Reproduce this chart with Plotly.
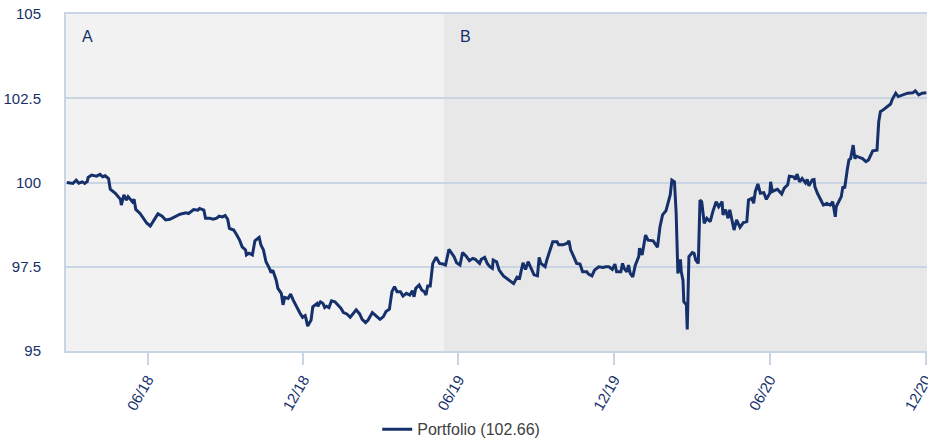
import plotly.graph_objects as go

dates = [
"2018-02-26","2018-03-05","2018-03-09","2018-03-12","2018-03-16","2018-03-19","2018-03-22","2018-03-23","2018-03-27","2018-04-02",
"2018-04-06","2018-04-09","2018-04-12","2018-04-16","2018-04-18","2018-04-24","2018-04-30","2018-05-01","2018-05-04","2018-05-07",
"2018-05-09","2018-05-14","2018-05-16","2018-05-18","2018-05-23","2018-05-28","2018-05-31","2018-06-04","2018-06-07","2018-06-13",
"2018-06-18","2018-06-22","2018-06-27","2018-07-03","2018-07-09","2018-07-16","2018-07-19","2018-07-25","2018-07-30","2018-08-01",
"2018-08-06","2018-08-08","2018-08-13","2018-08-17","2018-08-21","2018-08-24","2018-08-28","2018-08-31","2018-09-03","2018-09-05",
"2018-09-10","2018-09-13","2018-09-17","2018-09-20","2018-09-24","2018-09-25","2018-09-28","2018-10-02","2018-10-05","2018-10-10",
"2018-10-12","2018-10-15","2018-10-18","2018-10-22","2018-10-24","2018-10-26","2018-10-30","2018-11-01","2018-11-05","2018-11-07",
"2018-11-09","2018-11-13","2018-11-16","2018-11-19","2018-11-23","2018-11-27","2018-11-30","2018-12-03","2018-12-04","2018-12-06",
"2018-12-10","2018-12-12","2018-12-17","2018-12-18","2018-12-21","2018-12-24","2018-12-26","2018-12-28","2018-12-31","2019-01-03",
"2019-01-07","2019-01-09","2019-01-14","2019-01-17","2019-01-21","2019-01-25","2019-01-28","2019-02-01","2019-02-05","2019-02-08",
"2019-02-12","2019-02-15","2019-02-20","2019-02-25","2019-03-01","2019-03-05","2019-03-08","2019-03-12","2019-03-15","2019-03-18",
"2019-03-21","2019-03-25","2019-03-28","2019-04-01","2019-04-05","2019-04-08","2019-04-10","2019-04-12","2019-04-16","2019-04-19",
"2019-04-22","2019-04-24","2019-04-26","2019-04-29","2019-05-02","2019-05-06","2019-05-10","2019-05-14","2019-05-17","2019-05-21",
"2019-05-27","2019-05-30","2019-06-03","2019-06-06","2019-06-10","2019-06-14","2019-06-18","2019-06-21","2019-06-26","2019-06-28",
"2019-07-02","2019-07-05","2019-07-08","2019-07-11","2019-07-12","2019-07-16","2019-07-19","2019-07-24","2019-07-29","2019-08-01",
"2019-08-05","2019-08-09","2019-08-12","2019-08-16","2019-08-19","2019-08-22","2019-08-26","2019-08-29","2019-09-02","2019-09-04",
"2019-09-06","2019-09-11","2019-09-13","2019-09-16","2019-09-20","2019-09-25","2019-09-27","2019-10-02","2019-10-07","2019-10-09",
"2019-10-11","2019-10-15","2019-10-18","2019-10-22","2019-10-25","2019-10-30","2019-11-01","2019-11-05","2019-11-08","2019-11-13",
"2019-11-18","2019-11-21","2019-11-25","2019-11-29","2019-12-02","2019-12-04","2019-12-09","2019-12-11","2019-12-13","2019-12-16",
"2019-12-18","2019-12-20","2019-12-23","2019-12-26","2019-12-30","2019-12-31","2020-01-03","2020-01-07","2020-01-10","2020-01-16",
"2020-01-21","2020-01-24","2020-01-27","2020-01-31","2020-02-03","2020-02-05","2020-02-07","2020-02-10","2020-02-12","2020-02-14",
"2020-02-17","2020-02-18","2020-02-20","2020-02-21","2020-02-24","2020-02-25","2020-02-27","2020-03-02","2020-03-04","2020-03-06",
"2020-03-09","2020-03-11","2020-03-13","2020-03-16","2020-03-19","2020-03-23","2020-03-26","2020-03-30","2020-04-02","2020-04-06",
"2020-04-07","2020-04-10","2020-04-13","2020-04-15","2020-04-20","2020-04-23","2020-04-27","2020-05-01","2020-05-05","2020-05-07",
"2020-05-11","2020-05-13","2020-05-15","2020-05-18","2020-05-21","2020-05-25","2020-05-28","2020-06-01","2020-06-02","2020-06-04",
"2020-06-08","2020-06-10","2020-06-15","2020-06-18","2020-06-22","2020-06-24","2020-06-29","2020-07-01","2020-07-03","2020-07-06",
"2020-07-09","2020-07-13","2020-07-15","2020-07-17","2020-07-21","2020-07-23","2020-07-24","2020-07-27","2020-07-31","2020-08-03",
"2020-08-07","2020-08-11","2020-08-14","2020-08-17","2020-08-18","2020-08-21","2020-08-24","2020-08-26","2020-08-28","2020-08-31",
"2020-09-02","2020-09-04","2020-09-07","2020-09-09","2020-09-11","2020-09-15","2020-09-18","2020-09-22","2020-09-25","2020-09-30",
"2020-10-05","2020-10-07","2020-10-09","2020-10-13","2020-10-16","2020-10-21","2020-10-23","2020-10-27","2020-10-30","2020-11-04",
"2020-11-10","2020-11-16","2020-11-19","2020-11-23","2020-11-27","2020-12-02",
]

portfolio = [
100.0,99.97,100.07,99.98,100.02,99.97,100.03,100.15,100.22,100.19,
100.24,100.17,100.2,100.12,99.8,99.68,99.5,99.33,99.63,99.48,
99.58,99.43,99.5,99.2,99.08,98.91,98.79,98.71,98.84,99.07,
99.0,98.89,98.91,98.99,99.06,99.1,99.08,99.2,99.18,99.23,
99.18,98.94,98.94,98.91,98.94,99.0,98.98,99.02,98.91,98.64,
98.59,98.47,98.29,98.09,98.0,97.85,97.9,97.85,98.27,98.37,
98.15,98.0,97.65,97.45,97.32,97.4,97.1,96.86,96.71,96.37,
96.59,96.56,96.69,96.51,96.29,96.12,96.0,96.05,95.96,95.74,
95.92,96.31,96.41,96.33,96.46,96.41,96.29,96.33,96.29,96.49,
96.46,96.41,96.27,96.14,96.1,96.0,96.1,96.22,96.1,95.94,
95.84,95.92,96.14,96.02,95.94,96.02,96.17,96.24,96.76,96.91,
96.76,96.76,96.63,96.71,96.66,96.79,96.61,96.86,96.96,96.81,
96.76,96.66,96.93,96.93,97.6,97.78,97.6,97.58,97.55,98.02,
97.8,97.62,97.55,97.92,97.82,97.68,97.75,97.72,97.6,97.72,
97.78,97.6,97.5,97.45,97.7,97.65,97.4,97.23,97.13,97.09,
97.0,97.19,97.16,97.62,97.42,97.65,97.4,97.26,97.23,97.78,
97.6,97.5,97.7,97.95,98.24,98.24,98.15,98.15,98.2,98.27,
98.0,97.78,97.6,97.58,97.35,97.35,97.28,97.23,97.4,97.5,
97.48,97.5,97.5,97.42,97.58,97.35,97.35,97.6,97.45,97.35,
97.55,97.3,97.2,97.55,97.8,98.05,97.85,98.44,98.29,98.27,
98.08,98.69,99.04,99.16,99.43,99.63,100.07,100.02,99.08,97.3,
97.72,97.35,97.1,96.46,96.37,95.64,97.8,97.92,97.9,97.7,
97.6,99.48,99.43,98.79,98.94,98.84,99.13,99.43,99.28,99.43,
99.04,99.19,98.94,99.19,98.59,98.89,98.67,98.81,98.84,99.48,
99.53,99.38,99.73,99.96,99.68,99.7,99.5,99.68,100.02,99.73,
99.78,99.8,99.66,99.83,99.93,100.19,100.17,100.09,100.25,100.02,
100.12,99.99,100.09,99.9,100.08,100.09,99.88,99.68,99.48,99.33,
99.38,99.33,99.43,98.98,99.28,99.43,99.58,99.88,99.83,100.37,
100.67,100.71,101.11,100.71,100.78,100.74,100.71,100.62,100.67,100.94,
100.96,101.8,102.1,102.17,102.23,102.33,102.47,102.65,102.55,102.6,
102.65,102.66,102.72,102.6,102.65,102.66,
]

series_name = "Portfolio (102.66)"
x_tickvals = ["2018-06-01", "2018-12-01", "2019-06-01", "2019-12-01", "2020-06-01", "2020-12-01"]
x_ticktext = ["06/18", "12/18", "06/19", "12/19", "06/20", "12/20"]
y_tickvals = [95, 97.5, 100, 102.5, 105]
y_ticktext = ["95", "97.5", "100", "102.5", "105"]
period_labels = ["A", "B"]
period_starts = ["2018-02-25", "2019-05-15"]
period_end = "2020-12-02 18:00"

NAVY = "#16306b"
GRID = "#c9d5e3"
FONT = "Liberation Sans, Arial, Helvetica, sans-serif"

fig = go.Figure()
fig.add_trace(go.Scatter(
    x=dates, y=portfolio, mode="lines", name=series_name,
    line=dict(color=NAVY, width=3),
))

fills = ["#f2f2f2", "#e8e8e8"]
bounds = period_starts + [period_end]
for i, lab in enumerate(period_labels):
    fig.add_shape(type="rect", xref="x", yref="paper",
                  x0=bounds[i], x1=bounds[i + 1], y0=0, y1=1,
                  fillcolor=fills[i], line_width=0, layer="below")
    fig.add_annotation(x=bounds[i], y=1, xref="x", yref="paper",
                       text=lab, showarrow=False, xanchor="left", yanchor="top",
                       xshift=14, yshift=-12,
                       font=dict(family=FONT, size=16, color=NAVY))

fig.update_layout(
    width=928, height=439,
    margin=dict(l=66, r=1, t=14, b=88),
    paper_bgcolor="white", plot_bgcolor="#f2f2f2",
    font=dict(family=FONT, size=15, color=NAVY),
    showlegend=True,
    legend=dict(orientation="h", xref="container", yref="container",
                x=0.497, y=0.022, xanchor="center", yanchor="middle",
                font=dict(family=FONT, size=16, color="#404040"),
                bgcolor="rgba(0,0,0,0)"),
)
fig.update_xaxes(
    type="date", range=[period_starts[0], period_end],
    tickvals=x_tickvals, ticktext=x_ticktext, tickangle=-60,
    showgrid=False, showline=True, linecolor=GRID, linewidth=2, mirror=True,
    ticks="outside", ticklen=12, tickwidth=2, tickcolor=GRID,
    ticklabeloverflow="allow",
    tickfont=dict(family=FONT, size=15, color=NAVY), automargin=False,
)
fig.update_yaxes(
    range=[95, 105], tickvals=y_tickvals, ticktext=y_ticktext,
    showgrid=True, gridcolor=GRID, gridwidth=1.5,
    showline=True, linecolor=GRID, linewidth=2, zeroline=False,
    ticks="", ticklabelstandoff=20,
    tickfont=dict(family=FONT, size=15, color=NAVY), automargin=False,
)

fig.write_html("out.html", config={"displayModeBar": False},
               post_script="document.body.style.margin='0px';")
